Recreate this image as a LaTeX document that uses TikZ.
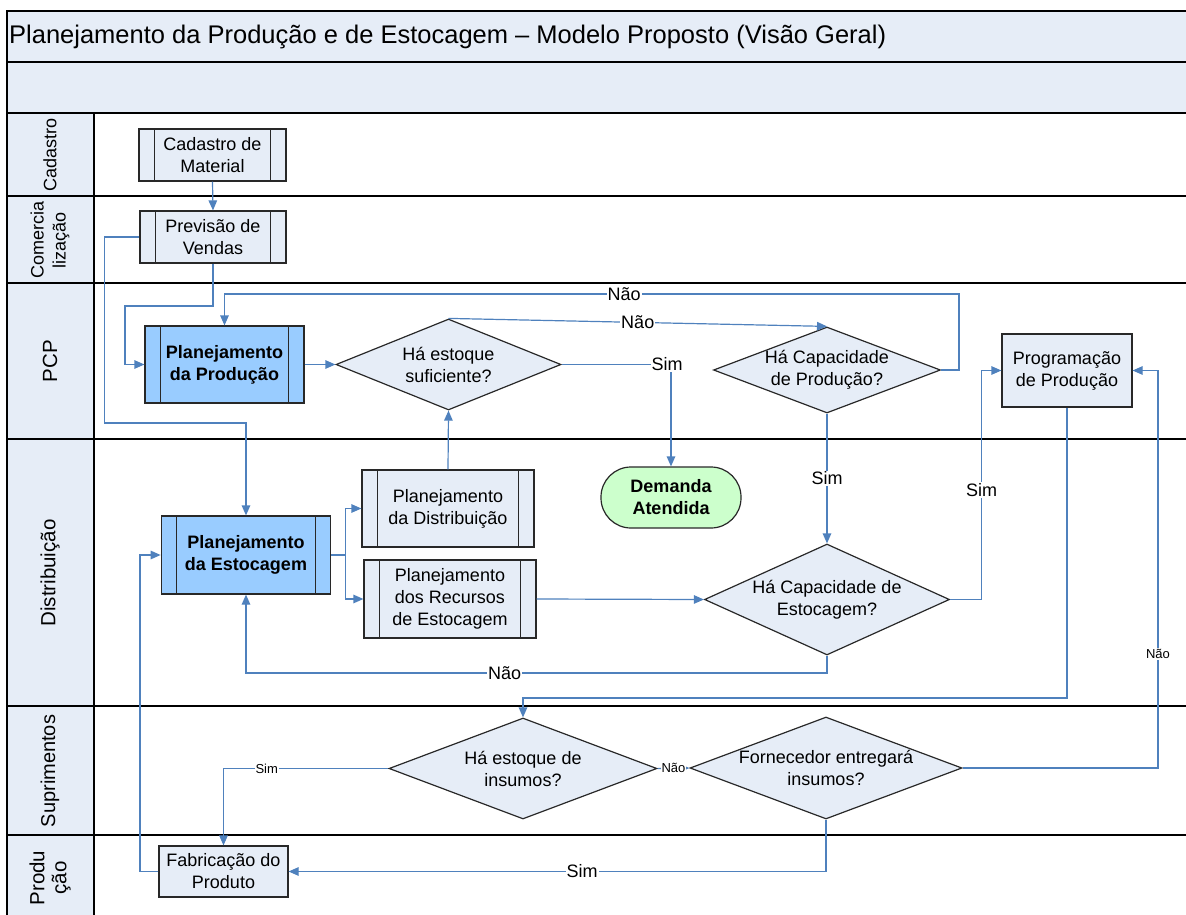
\documentclass[tikz,border=0pt]{standalone}
\usepackage{fontspec}
\setmainfont{Liberation Sans}
\usetikzlibrary{arrows.meta,shapes.geometric}

\definecolor{bandfill}{RGB}{230,237,247}
\definecolor{boxfill}{RGB}{230,237,247}
\definecolor{keyfill}{RGB}{153,204,255}
\definecolor{endfill}{RGB}{204,255,204}
\definecolor{boxline}{RGB}{40,40,40}
\definecolor{linec}{RGB}{79,129,189}

\tikzset{
  sep/.style={draw=black, line width=1.4pt},
  plain/.style={draw=linec, line width=1.2pt},
  conn/.style={plain, -{Triangle[length=10pt,width=8.5pt]}},
  txt/.style={font=\fontsize{18}{22}\selectfont, align=center, inner sep=0pt},
  boxbase/.style={draw=boxline, line width=1.2pt, inner sep=0pt, align=center,
    font=\fontsize{18}{22}\selectfont},
  procbox/.style={boxbase, fill=boxfill},
  subproc/.style={boxbase, fill=boxfill,
    path picture={
      \draw[boxline, line width=1.2pt]
        ([xshift=15.5pt]path picture bounding box.north west) --
        ([xshift=15.5pt]path picture bounding box.south west)
        ([xshift=-15.5pt]path picture bounding box.north east) --
        ([xshift=-15.5pt]path picture bounding box.south east);}},
  keyproc/.style={subproc, fill=keyfill, font=\fontsize{18}{22}\selectfont\bfseries},
  decision/.style={shape=diamond, draw=boxline, fill=boxfill, line width=1.2pt, inner sep=0pt},
  terminal/.style={boxbase, fill=endfill, rounded corners=30pt,
    font=\fontsize{18}{22}\selectfont\bfseries},
  lanelbl/.style={rotate=90, align=center, inner sep=0pt},
  lbl/.style={fill=white, inner sep=1pt, font=\fontsize{18}{20}\selectfont},
  slbl/.style={fill=white, inner sep=1pt, font=\fontsize{13}{15}\selectfont},
}

\begin{document}
\begin{tikzpicture}[x=1pt, y=-1pt]
\useasboundingbox (0,0) rectangle (1186,915);

% header bands and lane title column
\fill[bandfill] (7,11) rectangle (1186,113);
\fill[bandfill] (7,113) rectangle (94,915);
\draw[sep] (1186,11) -- (7,11) -- (7,915);
\draw[sep] (94,113) -- (94,915);
\foreach \yy in {62,113,196,283,439,706,835}
  \draw[sep] (7,\yy) -- (1186,\yy);

\node[anchor=west, inner sep=0pt, font=\fontsize{25.5}{30}\selectfont] (title) at (9,37)
  {Planejamento da Produção e de Estocagem – Modelo Proposto (Visão Geral)};

% lane names
\node[lanelbl, font=\fontsize{18}{22}\selectfont] (lcad) at (50,155) {Cadastro};
\node[lanelbl, font=\fontsize{18}{22}\selectfont] (lcom) at (50,240) {Comercia\\lização};
\node[lanelbl, font=\fontsize{20.5}{22}\selectfont] (lpcp) at (50,361) {PCP};
\node[lanelbl, font=\fontsize{20.5}{22}\selectfont] (ldis) at (50,573) {Distribuição};
\node[lanelbl, font=\fontsize{20}{22}\selectfont] (lsup) at (50,771) {Suprimentos};
\node[lanelbl, font=\fontsize{20.5}{22}\selectfont] (lpro) at (50,878) {Produ\\ção};

% process steps
\node[subproc, minimum width=147pt, minimum height=52pt] (cad) at (212.5,155) {Cadastro de\\Material};
\node[subproc, minimum width=146pt, minimum height=52pt] (prev) at (213,237) {Previsão de\\Vendas};
\node[keyproc, minimum width=159pt, minimum height=77pt] (pdp) at (224.5,364.5) {Planejamento\\da Produção};
\node[keyproc, minimum width=169.5pt, minimum height=78pt] (pde) at (246,555) {Planejamento\\da Estocagem};
\node[subproc, minimum width=172pt, minimum height=77pt] (pdd) at (448,508.5) {Planejamento\\da Distribuição};
\node[subproc, minimum width=172pt, minimum height=78pt] (pdre) at (450,599) {Planejamento\\dos Recursos\\de Estocagem};
\node[procbox, minimum width=130pt, minimum height=73pt] (prog) at (1067,370.5) {Programação\\de Produção};
\node[procbox, minimum width=129pt, minimum height=51pt] (fab) at (223.5,871.5) {Fabricação do\\Produto};
\node[terminal, minimum width=140pt, minimum height=61pt] (dem) at (671,497.5) {Demanda\\Atendida};

% decisions
\node[decision, minimum width=225pt, minimum height=91pt] (d1) at (448.5,364.5) {};
\node[txt] (d1t) at (d1) {Há estoque\\suficiente?};
\node[decision, minimum width=227pt, minimum height=86pt] (d2) at (827,370) {};
\node[txt] (d2t) at (d2) {Há Capacidade\\de Produção?};
\node[decision, minimum width=245pt, minimum height=111pt] (d3) at (827,599.5) {};
\node[txt] (d3t) at (d3) {Há Capacidade de\\Estocagem?};
\node[decision, minimum width=268pt, minimum height=101pt] (d4) at (523,768.5) {};
\node[txt] (d4t) at (d4) {Há estoque de\\insumos?};
\node[decision, minimum width=272pt, minimum height=102pt] (d5) at (826,768) {};
\node[txt] (d5t) at (d5) {Fornecedor entregará\\insumos?};

% bend points
\coordinate (bPrevW) at (104.5,423);
\coordinate (bPrevS) at (125,306);
\coordinate (bTop) at (959,294);
\coordinate (bSimE) at (981.5,370.5);
\coordinate (bSplit) at (345.5,555);
\coordinate (bNao) at (827,673);
\coordinate (bProg) at (1067,698);
\coordinate (bRight) at (1158,768);
\coordinate (bFab) at (140,871.5);

% connectors
\draw[conn] (cad.south) -- (prev.north);
\draw[conn] (prev.west) -| (bPrevW) -| (pde.north);
\draw[conn] (prev.south) |- (bPrevS) |- (pdp.west);
\draw[conn] (pdp.east) -- (d1.west);
\draw[conn] (d1.north) -- node[lbl, pos=0.5] {Não} (d2.north);
\draw[conn] (d1.east) -| node[lbl, pos=0.5, xshift=-4pt] {Sim} (dem.north);
\draw[conn] (d2.east) -| (bTop) -- node[lbl, pos=0.456] {Não} (bTop -| pdp.north) -- (pdp.north);
\draw[conn] (d2.south) -- node[lbl, pos=0.5] {Sim} (d3.north);
\draw[conn] (d3.east) -| node[lbl, pos=0.739] {Sim} (bSimE) -- (prog.west);
\draw[conn] (pdd.north) -- (d1.south);
\draw[plain] (pde.east) -- (bSplit);
\draw[conn] (bSplit) |- (pdd.west);
\draw[conn] (bSplit) |- (pdre.west);
\draw[conn] (pdre.east) -- (d3.west);
\draw[conn] (d3.south) -- (bNao) -- node[lbl, pos=0.555] {Não} (bNao -| pde.south) -- (pde.south);
\draw[conn] (prog.south) -- (bProg) -| (d4.north);
\draw[conn] (d4.west) -| node[slbl, pos=0.369] {Sim} (fab.north);
\draw[conn] (d4.east) -- node[slbl, pos=0.5] {Não} (d5.west);
\draw[conn] (d5.east) -- (bRight) -- node[slbl, pos=0.287] {Não} (bRight |- prog.east) -- (prog.east);
\draw[conn] (d5.south) |- node[lbl, pos=0.727] {Sim} (fab.east);
\draw[conn] (fab.west) -- (bFab) |- (pde.west);
\end{tikzpicture}
\end{document}
